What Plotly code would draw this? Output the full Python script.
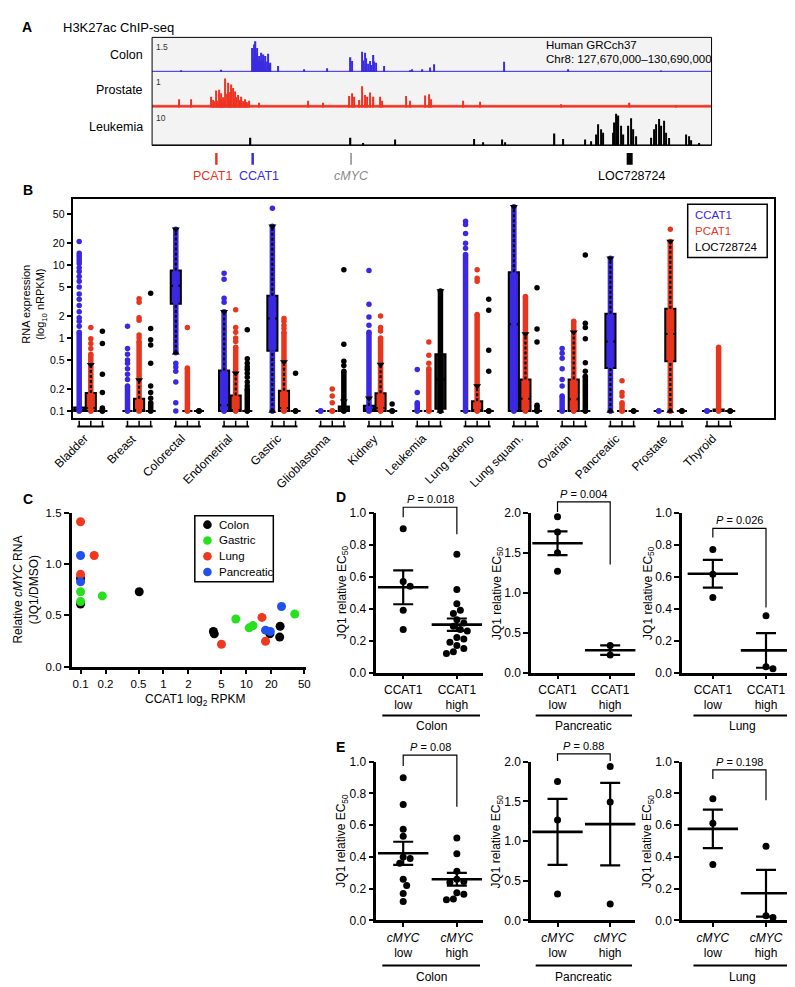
import numpy as np
import plotly.graph_objects as go

W, H = 795, 987
FONT = "Liberation Sans, Arial, Helvetica, sans-serif"

# ================= DATA =================
# ---- Panel A: H3K27ac ChIP-seq (Chr8, Mb) ----
chr_start, chr_end = 127.67, 130.69
track_names = ["Colon", "Prostate", "Leukemia"]
track_scale = [1.5, 1.0, 10.0]
track_scale_text = ["1.5", "1", "10"]
track_floor = [0.03, 0.07, 0.15]
colon_pos = [127.827, 128.044, 128.213, 128.217, 128.221, 128.225, 128.229, 128.233, 128.237, 128.242,
             128.248, 128.255, 128.261, 128.266, 128.272, 128.278, 128.283, 128.290, 128.297, 128.303,
             128.310, 128.351, 128.492, 128.614, 128.742, 128.750, 128.804, 128.810, 128.818, 128.826,
             128.835, 128.845, 128.855, 128.866, 128.870, 128.880, 128.921, 129.062, 129.075, 129.130,
             129.170, 129.192, 129.572, 129.916, 130.418]
colon_val = [0.07, 0.09, 1.04, 0.60, 1.19, 0.90, 1.33, 0.80, 1.04, 0.50,
             0.69, 0.45, 0.83, 0.50, 0.76, 0.40, 0.69, 0.45, 0.79, 0.30,
             0.40, 0.26, 0.11, 0.16, 0.64, 0.47, 0.87, 0.50, 0.83, 0.59,
             0.35, 0.47, 0.30, 0.73, 0.45, 0.40, 0.26, 0.07, 0.11, 0.11,
             0.19, 0.33, 0.44, 0.11, 0.04]
prostate_pos = [127.814, 127.882, 127.990, 128.000, 128.005, 128.017, 128.024, 128.031, 128.038, 128.044,
                128.050, 128.055, 128.061, 128.066, 128.073, 128.080, 128.085, 128.090, 128.095, 128.099,
                128.107, 128.112, 128.118, 128.126, 128.134, 128.140, 128.146, 128.153, 128.160, 128.166,
                128.172, 128.180, 128.186, 128.194, 128.248, 128.514, 128.595, 128.736, 128.750, 128.763,
                128.790, 128.804, 128.818, 128.831, 128.845, 128.866, 128.899, 128.913, 129.043, 129.062,
                129.143, 129.165, 129.178, 129.347, 129.442, 129.876, 130.248, 130.500]
prostate_val = [0.24, 0.24, 0.31, 0.22, 0.18, 0.49, 0.20, 0.51, 0.22, 0.41,
                0.20, 0.30, 0.22, 0.83, 0.40, 0.71, 0.25, 0.45, 0.22, 0.66,
                0.56, 0.25, 0.46, 0.30, 0.36, 0.20, 0.22, 0.31, 0.18, 0.17,
                0.24, 0.16, 0.15, 0.20, 0.14, 0.20, 0.14, 0.33, 0.41, 0.31,
                0.22, 0.61, 0.36, 0.31, 0.43, 0.31, 0.31, 0.20, 0.33, 0.20,
                0.35, 0.38, 0.24, 0.20, 0.17, 0.10, 0.14, 0.07]
leuk_pos = [128.202, 128.742, 128.810, 128.980, 129.409, 129.455, 129.558, 129.577, 129.843, 129.889,
            130.006, 130.038, 130.066, 130.079, 130.093, 130.106, 130.160, 130.167, 130.174, 130.181,
            130.188, 130.201, 130.215, 130.242, 130.256, 130.269, 130.283, 130.364, 130.378, 130.391,
            130.405, 130.418, 130.432, 130.445, 130.459, 130.554, 130.567, 130.581, 130.622]
leuk_val = [2.06, 2.06, 0.65, 1.59, 1.78, 0.84, 1.59, 0.84, 3.27, 1.78,
            1.59, 1.12, 2.99, 5.79, 4.39, 3.46, 3.46, 6.26, 8.60, 7.50,
            8.13, 5.33, 2.99, 5.33, 7.38, 4.39, 2.52, 2.06, 4.39, 5.79,
            7.20, 5.33, 6.73, 3.46, 2.00, 2.99, 2.52, 1.40, 0.65]
genes = ["PCAT1", "CCAT1", "<i>cMYC</i>", "LOC728724"]
gene_pos = [128.017, 128.213, 128.744, 130.248]

# ---- Panel B: RNA expression box plots ----
groups_b = ["Bladder", "Breast", "Colorectal", "Endometrial", "Gastric", "Glioblastoma", "Kidney",
            "Leukemia", "Lung adeno", "Lung squam.", "Ovarian", "Pancreatic", "Prostate", "Thyroid"]
series_b = ["CCAT1", "PCAT1", "LOC728724"]
b_ticks = [0.1, 0.2, 0.5, 1, 2, 5, 10, 20, 50]
b_ticktext = ["0.1", "0.2", "0.5", "1", "2", "5", "10", "20", "50"]

ccat1_q1 = [0.1, 0.1, 2.95, 0.1, 0.67, 0.1, 0.1, 0.1, 0.1, 0.1, 0.1, 0.39, 0.1, 0.1]
ccat1_med = [0.1, 0.1, 5.2, 0.12, 1.85, 0.1, 0.105, 0.1, 0.1, 1.55, 0.1, 0.9, 0.1, 0.1]
ccat1_q3 = [0.112, 0.1, 8.4, 0.36, 3.8, 0.1, 0.118, 0.1, 0.1, 8.0, 0.1, 2.15, 0.1, 0.1]
ccat1_lo = [0.1, 0.1, 0.63, 0.1, 0.1, 0.1, 0.1, 0.1, 0.1, 0.1, 0.1, 0.1, 0.1, 0.1]
ccat1_hi = [0.112, 0.1, 31, 2.3, 34, 0.1, 0.15, 0.1, 0.1, 63, 0.1, 12.4, 0.1, 0.1]
ccat1_dense_lo = [0.1, 0.1, 0.63, 0.1, 0.1, 0.1, 0.1, 0.1, 0.1, 0.1, 0.1, 0.1, 0.1, 0.1]
ccat1_dense_hi = [1.2, 0.22, 31, 2.3, 34, 0.1, 1.2, 0.13, 14, 63, 0.16, 12.4, 0.1, 0.1]
ccat1_pts = [[21, 14.5, 13.5, 12.5, 11.5, 10.5, 9.2, 8.2, 7.0, 6.0, 5.0, 4.0, 3.4, 2.8, 2.3, 1.9, 1.7, 1.45],
             [1.45, 0.72, 0.6, 0.5, 0.45, 0.38, 0.32, 0.27],
             [0.45, 0.4, 0.35, 0.25, 0.13],
             [7.7, 6.4, 3.5, 3.1],
             [60],
             [],
             [8.4, 2.9, 1.95, 1.5],
             [0.37, 0.18],
             [40, 36, 27, 20, 17],
             [],
             [0.72, 0.62, 0.53, 0.38, 0.27, 0.22],
             [], [], []]

pcat1_q1 = [0.1, 0.1, 0.1, 0.1, 0.1, 0.1, 0.1, 0.1, 0.1, 0.1, 0.1, 0.1, 0.48, 0.1]
pcat1_med = [0.11, 0.1, 0.1, 0.1, 0.11, 0.1, 0.11, 0.1, 0.1, 0.147, 0.145, 0.1, 1.14, 0.1]
pcat1_q3 = [0.177, 0.147, 0.1, 0.163, 0.19, 0.1, 0.175, 0.1, 0.136, 0.27, 0.27, 0.1, 2.53, 0.105]
pcat1_lo = [0.1] * 14
pcat1_hi = [0.43, 0.267, 0.1, 0.33, 0.47, 0.1, 0.435, 0.1, 0.22, 1.14, 1.2, 0.1, 21, 0.105]
pcat1_dense_lo = [0.1] * 14
pcat1_dense_hi = [0.6, 0.9, 0.39, 0.75, 1.2, 0.1, 1.0, 0.38, 2.1, 3.7, 1.7, 0.13, 21, 0.75]
pcat1_pts = [[1.4, 0.98, 0.84, 0.72],
             [3.45, 3.1, 1.9, 1.75, 1.1, 1.0],
             [1.4],
             [2.45, 1.4, 1.2, 1.0, 0.9],
             [1.85, 1.7, 1.5, 1.35],
             [0.2, 0.16, 0.13],
             [2.0, 1.4, 1.25],
             [0.88, 0.58, 0.45],
             [8.6, 6.6, 6.0],
             [], [],
             [0.26, 0.18, 0.16],
             [31],
             []]

loc_q1 = [0.1, 0.1, 0.1, 0.1, 0.1, 0.1, 0.1, 0.107, 0.1, 0.1, 0.1, 0.1, 0.1, 0.1]
loc_med = [0.1, 0.1, 0.1, 0.1, 0.1, 0.1, 0.1, 0.27, 0.1, 0.1, 0.1, 0.1, 0.1, 0.1]
loc_q3 = [0.1, 0.1, 0.1, 0.1, 0.1, 0.115, 0.1, 0.6, 0.1, 0.1, 0.1, 0.1, 0.1, 0.1]
loc_lo = [0.1] * 14
loc_hi = [0.1, 0.1, 0.1, 0.1, 0.1, 0.136, 0.1, 4.4, 0.1, 0.1, 0.1, 0.1, 0.1, 0.1]
loc_dense_lo = [0.1] * 14
loc_dense_hi = [0.11, 0.13, 0.1, 0.2, 0.1, 0.35, 0.1, 4.4, 0.1, 0.12, 0.3, 0.1, 0.1, 0.1]
loc_pts = [[1.24, 0.84, 0.32, 0.18],
           [4.1, 1.35, 0.95, 0.8, 0.45, 0.22, 0.18, 0.15],
           [],
           [1.3, 0.52, 0.45, 0.4, 0.37, 0.33, 0.29, 0.25, 0.22],
           [0.33],
           [8.6, 0.82, 0.48, 0.42],
           [0.125],
           [],
           [3.4, 2.4, 0.68, 0.35],
           [4.9, 1.33, 0.88],
           [13.7, 1.6, 1.4, 0.98, 0.46, 0.35],
           [], [], []]

# ---- Panel C: scatter ----
c_groups = ["Colon", "Gastric", "Lung", "Pancreatic"]
c_colon_x = [0.1, 0.1, 0.51, 4.0, 4.1, 19.2, 25.5, 25.2]
c_colon_y = [0.86, 0.61, 0.73, 0.343, 0.32, 0.32, 0.394, 0.288]
c_gastric_x = [0.1, 0.1, 0.183, 7.45, 10.8, 12.0, 38.3]
c_gastric_y = [0.73, 0.635, 0.69, 0.465, 0.378, 0.40, 0.513]
c_lung_x = [0.1, 0.146, 0.1, 5.0, 15.4, 17.0]
c_lung_y = [1.413, 1.084, 0.90, 0.218, 0.48, 0.247]
c_panc_x = [0.1, 0.1, 17.0, 19.4, 26.5]
c_panc_y = [1.084, 0.827, 0.356, 0.343, 0.587]
c_xticks = [0.1, 0.2, 0.5, 1, 2, 5, 10, 20, 50]
c_xticktext = ["0.1", "0.2", "0.5", "1", "2", "5", "10", "20", "50"]

# ---- Panels D & E: JQ1 relative EC50 ----
tissues = ["Colon", "Pancreatic", "Lung"]
d_colon_low = [0.90, 0.57, 0.54, 0.39, 0.27]
d_colon_high = [0.74, 0.52, 0.43, 0.39, 0.37, 0.33, 0.31, 0.29, 0.27, 0.26, 0.22, 0.21, 0.19, 0.17, 0.15, 0.13, 0.12]
d_panc_low = [1.95, 1.76, 1.50, 1.27]
d_panc_high = [0.34, 0.22]
d_lung_low = [0.77, 0.615, 0.47]
d_lung_high = [0.356, 0.037, 0.023]
d_pvals = ["0.018", "0.004", "0.026"]
e_colon_low = [0.90, 0.73, 0.575, 0.53, 0.40, 0.39, 0.36, 0.26, 0.22, 0.17, 0.12]
e_colon_high = [0.52, 0.42, 0.31, 0.26, 0.245, 0.24, 0.175, 0.165, 0.135, 0.13]
e_panc_low = [1.75, 1.265, 0.333]
e_panc_high = [1.94, 1.493, 0.209]
e_lung_low = [0.767, 0.612, 0.352]
e_lung_high = [0.467, 0.03, 0.018]
e_pvals = ["0.08", "0.88", "0.198"]

# ================= STYLE / LAYOUT =================
BLUE_A, RED_A = "#3a2ce0", "#ee3322"
track_colors = [BLUE_A, RED_A, "#000000"]
gene_colors = [RED_A, BLUE_A, "#8a8a8a", "#000000"]
b_colors = ["#3b28e2", "#e8361e", "#000000"]
b_boxfill = ["#3b28e2", "#e8361e", "#1a1a1a"]
c_colors = ["#000000", "#27e01e", "#f0381e", "#2150ec"]


def fx(x):
    return x / W


def fy(y):
    return 1 - y / H


fig = go.Figure()
shapes, anns, lay = [], [], {}


def add_text(x, y, s, size=12, color="black", xanchor="center", yanchor="middle", angle=0,
             xref="paper", yref="paper", xshift=0, yshift=0):
    anns.append(dict(x=x, y=y, text=s, xref=xref, yref=yref, showarrow=False, xanchor=xanchor,
                     yanchor=yanchor, textangle=angle, xshift=xshift, yshift=yshift,
                     font=dict(size=size, color=color, family=FONT)))


def hline(x0, x1, y, width=2, color="black", xref="paper"):
    shapes.append(dict(type="line", xref=xref, yref="paper", x0=x0, x1=x1, y0=y, y1=y,
                       line=dict(color=color, width=width)))


# panel letters
for L, (x, y) in zip("ABCDE", [(19, 12), (20, 178), (20, 491), (335, 489), (335, 743)]):
    add_text(fx(x), fy(y), "<b>%s</b>" % L, size=14)

# ================= Panel A =================
A_L, A_R = 145, 708
tr_top = [22.7, 58.5, 95.0]
tr_bot = [57.7, 94.0, 132.3]
add_text(fx(53), fy(13), "H3K27ac ChIP-seq", size=13, xanchor="left")
shapes.append(dict(type="rect", xref="paper", yref="paper", x0=fx(A_L), x1=fx(A_R), y0=fy(132.3),
                   y1=fy(22.7), fillcolor="#f3f3f3", line=dict(width=0), layer="below"))
lay["xaxis"] = dict(domain=[fx(A_L), fx(A_R)], range=[chr_start, chr_end], visible=False, anchor="y")
track_pos = [colon_pos, prostate_pos, leuk_pos]
track_val = [colon_val, prostate_val, leuk_val]
for i in range(3):
    yname = "y" if i == 0 else "y%d" % (i + 1)
    key = "yaxis" if i == 0 else "yaxis%d" % (i + 1)
    lay[key] = dict(domain=[fy(tr_bot[i]), fy(tr_top[i])], range=[0, track_scale[i]], visible=False, anchor="x")
    fig.add_trace(go.Scatter(x=[chr_start, chr_end], y=[track_floor[i]] * 2, mode="lines", fill="tozeroy",
                             fillcolor=track_colors[i], line=dict(color=track_colors[i], width=0.6),
                             xaxis="x", yaxis=yname, hoverinfo="skip"))
    fig.add_trace(go.Bar(x=track_pos[i], y=track_val[i], width=0.0065,
                         marker=dict(color=track_colors[i], line=dict(width=0)),
                         xaxis="x", yaxis=yname, hoverinfo="skip"))
    add_text(fx(138), fy((tr_top[i] + tr_bot[i]) / 2), track_names[i], size=12.5, xanchor="right")
    add_text(fx(147), fy(tr_top[i] + 2.5), track_scale_text[i], size=8.5, xanchor="left", yanchor="top", color="#333")
shapes.append(dict(type="rect", xref="paper", yref="paper", x0=fx(A_L), x1=fx(A_R), y0=fy(132.3),
                   y1=fy(22.7), fillcolor="rgba(0,0,0,0)", line=dict(color="black", width=1)))
add_text(fx(539), fy(30.7), "Human GRCch37", size=11.5, xanchor="left")
add_text(fx(539), fy(44.3), "Chr8: 127,670,000\u2013130,690,000", size=11.5, xanchor="left")
gene_w = [2.5, 2.5, 1.5, 6]
gene_shift = [-4, 6, 0, 2]
for g in range(4):
    shapes.append(dict(type="line", xref="x", yref="paper", x0=gene_pos[g], x1=gene_pos[g], y0=fy(140),
                       y1=fy(152), line=dict(color=gene_colors[g], width=gene_w[g])))
    add_text(gene_pos[g], fy(163), genes[g], size=12.5, color=gene_colors[g], xref="x", xshift=gene_shift[g])

# ================= Panel B =================
B_L, B_R, B_T, B_B = 65, 771, 187, 409
lay["xaxis4"] = dict(domain=[fx(B_L), fx(B_R)], range=[-0.377, 14.15], anchor="y4", showline=True, mirror=True,
                     linecolor="black", linewidth=2, showticklabels=False, ticks="", showgrid=False, zeroline=False)
lay["yaxis4"] = dict(domain=[fy(B_B), fy(B_T)], type="log", range=[-1.0985, 1.901], anchor="x4", showline=True,
                     mirror=True, linecolor="black", linewidth=2, ticks="outside", ticklen=4, tickwidth=1.5,
                     tickcolor="black", tickvals=b_ticks, ticktext=b_ticktext,
                     tickfont=dict(size=10.5, family=FONT, color="black"), showgrid=False, zeroline=False)
offsets = [-0.24, 0.0, 0.24]
b_q1 = [ccat1_q1, pcat1_q1, loc_q1]
b_med = [ccat1_med, pcat1_med, loc_med]
b_q3 = [ccat1_q3, pcat1_q3, loc_q3]
b_lo = [ccat1_lo, pcat1_lo, loc_lo]
b_hi = [ccat1_hi, pcat1_hi, loc_hi]
b_dlo = [ccat1_dense_lo, pcat1_dense_lo, loc_dense_lo]
b_dhi = [ccat1_dense_hi, pcat1_dense_hi, loc_dense_hi]
b_pts = [ccat1_pts, pcat1_pts, loc_pts]
ng = len(groups_b)
for s in range(3):
    pos = [g + offsets[s] for g in range(ng)]
    xs, ys, mx, my = [], [], [], []
    for g in range(ng):
        if b_dhi[s][g] > b_dlo[s][g]:
            xs += [pos[g], pos[g], None]
            ys += [b_dlo[s][g], b_dhi[s][g], None]
        for v in [0.1, b_dlo[s][g], b_dhi[s][g]] + b_pts[s][g]:
            mx.append(pos[g])
            my.append(v)
    fig.add_trace(go.Scatter(x=xs, y=ys, mode="lines", line=dict(color=b_colors[s], width=5.5),
                             xaxis="x4", yaxis="y4", hoverinfo="skip"))
    fig.add_trace(go.Scatter(x=mx, y=my, mode="markers", marker=dict(color=b_colors[s], size=5.5, line=dict(width=0)),
                             xaxis="x4", yaxis="y4", hoverinfo="skip"))
for s in range(3):
    pos = [g + offsets[s] for g in range(ng)]
    fig.add_trace(go.Box(x=pos, q1=b_q1[s], median=b_med[s], q3=b_q3[s], lowerfence=b_q1[s], upperfence=b_q3[s],
                         width=0.21, fillcolor=b_boxfill[s], line=dict(color="black", width=2), whiskerwidth=0,
                         boxpoints=False, xaxis="x4", yaxis="y4", hoverinfo="skip"))
for s in range(3):
    pos = [g + offsets[s] for g in range(ng)]
    wx, wy, tx, ty, bx, by = [], [], [], [], [], []
    for g in range(ng):
        if b_hi[s][g] > b_q3[s][g] * 1.02:
            wx += [pos[g], pos[g], None]
            wy += [b_q3[s][g], b_hi[s][g], None]
            tx.append(pos[g]); ty.append(b_hi[s][g])
        if b_lo[s][g] < b_q1[s][g] / 1.02:
            wx += [pos[g], pos[g], None]
            wy += [b_lo[s][g], b_q1[s][g], None]
            bx.append(pos[g]); by.append(b_lo[s][g])
    fig.add_trace(go.Scatter(x=wx, y=wy, mode="lines", line=dict(color="black", width=2.2, dash="3px,2px"),
                             xaxis="x4", yaxis="y4", hoverinfo="skip"))
    fig.add_trace(go.Scatter(x=tx, y=ty, mode="markers", marker=dict(symbol="triangle-down", size=7, color="black"),
                             xaxis="x4", yaxis="y4", hoverinfo="skip"))
    fig.add_trace(go.Scatter(x=bx, y=by, mode="markers", marker=dict(symbol="triangle-up", size=7, color="black"),
                             xaxis="x4", yaxis="y4", hoverinfo="skip"))
for g in range(ng):
    hline(g - 0.28, g + 0.28, fy(417.3), width=2, xref="x4")
    for s in range(3):
        p = g + offsets[s]
        shapes.append(dict(type="line", xref="x4", yref="paper", x0=p, x1=p, y0=fy(411.5), y1=fy(417.3),
                           line=dict(color="black", width=1.5)))
    add_text(g, fy(420), groups_b[g], size=12, xref="x4", xanchor="right", yanchor="top", angle=-45, xshift=3)
add_text(fx(27), fy(293), "RNA expression<br>(log<sub>10</sub> nRPKM)", size=11, angle=-90)
shapes.append(dict(type="rect", xref="paper", yref="paper", x0=fx(684), x1=fx(764), y0=fy(246), y1=fy(192),
                   fillcolor="white", line=dict(color="black", width=1.5)))
for s, yy in zip(range(3), [202.5, 219, 235.5]):
    add_text(fx(689), fy(yy), series_b[s], size=11.5, color=b_colors[s] if s < 2 else "black", xanchor="left")

# ================= Panel C =================
C_L, C_R, C_T, C_B = 64, 300, 505, 661
axstyle = dict(showline=True, linecolor="black", linewidth=2.5, ticks="outside", ticklen=5, tickwidth=2,
               tickcolor="black", showgrid=False, zeroline=False)
lay["xaxis5"] = dict(domain=[fx(C_L), fx(C_R)], type="log", range=[-1.108, 1.72], anchor="y5",
                     tickvals=c_xticks, ticktext=c_xticktext, tickfont=dict(size=11.5, family=FONT, color="black"),
                     **axstyle)
lay["yaxis5"] = dict(domain=[fy(C_B), fy(C_T)], range=[0, 1.5], anchor="x5", tickvals=[0, 0.5, 1.0, 1.5],
                     ticktext=["0.0", "0.5", "1.0", "1.5"], tickfont=dict(size=11.5, family=FONT, color="black"),
                     **axstyle)
c_x = [c_colon_x, c_gastric_x, c_lung_x, c_panc_x]
c_y = [c_colon_y, c_gastric_y, c_lung_y, c_panc_y]
for k in range(4):
    fig.add_trace(go.Scatter(x=c_x[k], y=c_y[k], mode="markers", cliponaxis=False,
                             marker=dict(size=9, color=c_colors[k], line=dict(width=0)),
                             xaxis="x5", yaxis="y5", hoverinfo="skip"))
shapes.append(dict(type="rect", xref="paper", yref="paper", x0=fx(188), x1=fx(267), y0=fy(575), y1=fy(508),
                   fillcolor="white", line=dict(color="black", width=1.5)))
for k, yy in zip(range(4), [517, 533, 549, 565]):
    shapes.append(dict(type="circle", xref="paper", yref="paper", xsizemode="pixel", ysizemode="pixel",
                       xanchor=fx(200.7), yanchor=fy(yy), x0=-4.3, x1=4.3, y0=-4.3, y1=4.3,
                       fillcolor=c_colors[k], line=dict(width=0)))
    add_text(fx(210.5), fy(yy), c_groups[k], size=11.5, xanchor="left")
add_text(fx(188), fy(695), "CCAT1 log<sub>2</sub> RPKM", size=12)
add_text(fx(18), fy(583), "Relative <i>cMYC</i> RNA<br>(JQ1/DMSO)", size=12, angle=-90)


# ================= Panels D & E =================
def swarm(vals, ppu_y, ppu_x, d=7.0):
    vals = np.asarray(vals, float)
    order = np.argsort(-vals)
    placed = []
    offs = np.zeros(len(vals))
    cands = [0.0]
    for j in range(1, 12):
        cands += [j * d * 0.5, -j * d * 0.5]
    for i in order:
        yv = vals[i] * ppu_y
        chosen = cands[-1]
        for cnd in cands:
            if all((cnd - a) ** 2 + (yv - b) ** 2 >= (0.95 * d) ** 2 for a, b in placed):
                chosen = cnd
                break
        placed.append((chosen, yv))
        offs[i] = chosen / ppu_x
    return offs


col_axis = [370.7, 526.5, 678.3]
col_right = [478, 631, 792]
low_off = [27, 26.5, 31]
high_off = [81, 79.5, 84.5]
ul_start = [6, 4.5, 11.5]
row_top = [505, 757.5]
row_bot = [667, 918.5]
ul_y = [710.7, 964.3]
tissue_y = [721.7, 975.7]
y_top = [1.0, 2.0, 1.0]
y_step = [0.2, 0.5, 0.2]
EXT = 30  # extra px of headroom for the significance brackets
row_low = [[d_colon_low, d_panc_low, d_lung_low], [e_colon_low, e_panc_low, e_lung_low]]
row_high = [[d_colon_high, d_panc_high, d_lung_high], [e_colon_high, e_panc_high, e_lung_high]]
row_p = [d_pvals, e_pvals]
row_labels = [["CCAT1<br>low", "CCAT1<br>high"], ["<i>cMYC</i><br>low", "<i>cMYC</i><br>high"]]
row_brackets = [[(1.035, 0.973, 0.866), (2.136, 2.012, 1.354), (0.903, 0.846, 0.407)],
                [(1.042, 0.974, 0.716), (2.10, 2.01, 2.01), (0.949, 0.891, 0.757)]]

for r in range(2):
    for c in range(3):
        k = 6 + r * 3 + c
        kb = k + 6
        xa, ya, yb = "x%d" % k, "y%d" % k, "y%d" % kb
        unit = high_off[c] - low_off[c]
        r0 = -low_off[c] / unit
        r1 = (col_right[c] - col_axis[c] - low_off[c]) / unit
        tv = [round(v, 2) for v in np.arange(0, y_top[c] + 1e-9, y_step[c])]
        hpx = row_bot[r] - row_top[r]
        lay["xaxis%d" % k] = dict(domain=[fx(col_axis[c]), fx(col_right[c])], range=[r0, r1], anchor=ya,
                                  tickvals=[0, 1], ticktext=row_labels[r],
                                  tickfont=dict(size=12, family=FONT, color="black"),
                                  **dict(axstyle, ticklen=4))
        lay["yaxis%d" % k] = dict(domain=[fy(row_bot[r]), fy(row_top[r])], range=[0, y_top[c]], anchor=xa,
                                  tickvals=tv, ticktext=["%.1f" % v for v in tv],
                                  tickfont=dict(size=12, family=FONT, color="black"), **axstyle)
        # invisible twin axis with identical scale but extra headroom (for brackets / P values)
        lay["yaxis%d" % kb] = dict(domain=[fy(row_bot[r]), fy(row_top[r] - EXT)],
                                   range=[0, y_top[c] * (hpx + EXT) / hpx], anchor=xa, visible=False)
        lo_v, hi_v = row_low[r][c], row_high[r][c]
        ppu_y = hpx / y_top[c]
        off_lo = swarm(lo_v, ppu_y, unit)
        off_hi = swarm(hi_v, ppu_y, unit)
        xs = list(0 + off_lo) + list(1 + off_hi)
        ys = list(lo_v) + list(hi_v)
        fig.add_trace(go.Scatter(x=xs, y=ys, mode="markers", cliponaxis=False,
                                 marker=dict(size=7, color="black", line=dict(width=0)),
                                 xaxis=xa, yaxis=ya, hoverinfo="skip"))
        means = [np.mean(lo_v), np.mean(hi_v)]
        sems = [np.std(lo_v, ddof=1) / np.sqrt(len(lo_v)), np.std(hi_v, ddof=1) / np.sqrt(len(hi_v))]
        fig.add_trace(go.Scatter(x=[0, 1], y=means, mode="markers", cliponaxis=False,
                                 marker=dict(symbol="line-ew", size=36, color="black",
                                             line=dict(width=2.6, color="black")),
                                 error_y=dict(type="data", array=sems, color="black", thickness=2.2, width=10),
                                 xaxis=xa, yaxis=ya, hoverinfo="skip"))
        top, lft, rgt = row_brackets[r][c]
        fig.add_trace(go.Scatter(x=[0, 0, 1, 1], y=[lft, top, top, rgt], mode="lines", cliponaxis=False,
                                 line=dict(color="black", width=1.2), xaxis=xa, yaxis=yb, hoverinfo="skip"))
        add_text(0.5, top, "<i>P</i> = " + row_p[r][c], size=11, xref=xa, yref=yb, yanchor="bottom")
        hline(fx(col_axis[c] + ul_start[c]), fx(col_right[c] - 3), fy(ul_y[r]), width=2)
        add_text(fx((col_axis[c] + ul_start[c] + col_right[c] - 3) / 2), fy(tissue_y[r]), tissues[c], size=12)
        add_text(fx(col_axis[c] - 34), fy((row_top[r] + row_bot[r]) / 2), "JQ1 relative EC<sub>50</sub>",
                 size=12, angle=-90)

fig.update_layout(width=W, height=H, margin=dict(l=0, r=0, t=0, b=0), paper_bgcolor="white",
                  plot_bgcolor="rgba(0,0,0,0)", showlegend=False, barmode="overlay", boxmode="overlay",
                  shapes=shapes, annotations=anns, font=dict(family=FONT, color="black"), **lay)
fig.write_html("out.html")
